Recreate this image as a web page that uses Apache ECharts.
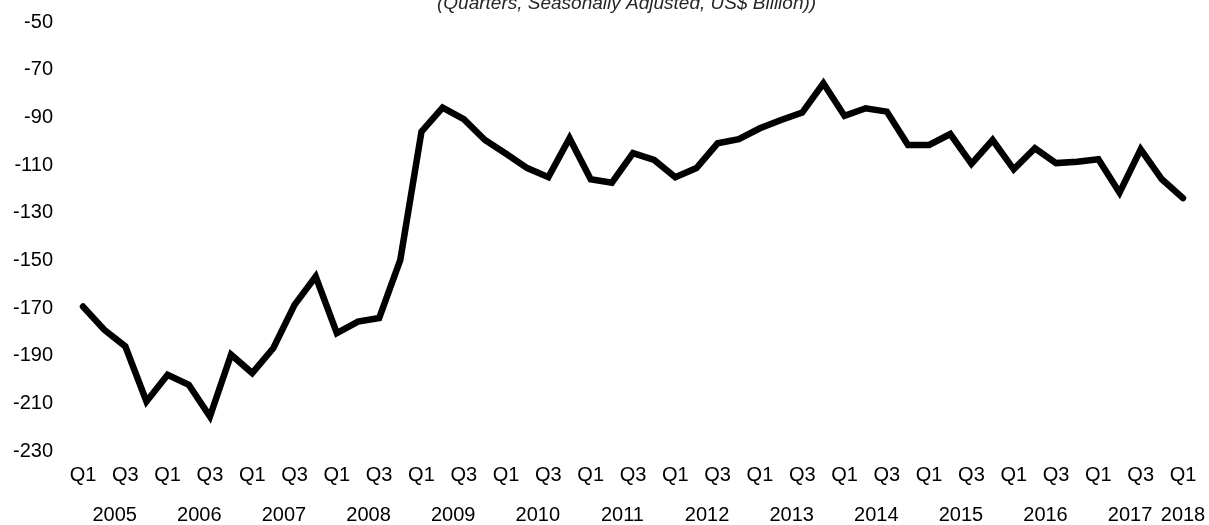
<!DOCTYPE html>
<html>
<head>
<meta charset="utf-8">
<script src="https://cdn.jsdelivr.net/npm/echarts@6/dist/echarts.min.js"></script>
<style>
  html, body { margin: 0; padding: 0; background: #fff; }
  #chart { width: 1209px; height: 525px; }
</style>
</head>
<body>
<div id="chart"></div>
<script>
// Quarterly balance, 2005 Q1 – 2018 Q1 (US$ billion, seasonally adjusted)
const years = [2005, 2006, 2007, 2008, 2009, 2010, 2011, 2012, 2013, 2014, 2015, 2016, 2017, 2018];
const quarterNames = ['Q1', 'Q2', 'Q3', 'Q4'];

// one entry per quarter, starting at 2005 Q1
const balance = [
  -169.4, -179.1, -186.1, -209.2,   // 2005
  -198.0, -202.2, -215.5, -189.6,   // 2006
  -197.3, -186.8, -168.7, -156.8,   // 2007
  -180.5, -175.7, -174.2, -149.8,   // 2008
  -96.0,  -85.9,  -90.8,  -99.5,    // 2009
  -105.3, -111.3, -115.1, -98.8,    // 2010
  -116.0, -117.4, -105.0, -107.9,   // 2011
  -115.1, -111.3, -100.9, -99.2,    // 2012
  -94.6,  -91.1,  -88.0,  -75.7,    // 2013
  -89.4,  -86.2,  -87.6,  -101.6,   // 2014
  -101.6, -97.0,  -109.5, -99.5,    // 2015
  -111.8, -103.0, -109.2, -108.6,   // 2016
  -107.6, -121.6, -103.4, -116.0,   // 2017
  -123.9                            // 2018
];

const yTicks = { min: -230, max: -50, step: 20 };
const titleText = '(Quarters, Seasonally Adjusted, US$ Billion))';

// quarter category labels, e.g. "2005 Q1"
const quarters = balance.map((_, i) => years[Math.floor(i / 4)] + ' ' + quarterNames[i % 4]);

// centre of each year's group of quarters on the quarter index scale
const lastIndex = balance.length - 1;
const yearCentres = years.map((y, k) => {
  const first = k * 4;
  const last = Math.min(first + 3, lastIndex);
  return (first + last) / 2;
});

const font = 'Liberation Sans, Arial, sans-serif';

const chart = echarts.init(document.getElementById('chart'), null, { renderer: 'canvas' });
chart.setOption({
  animation: false,
  backgroundColor: '#ffffff',
  title: {
    text: titleText,
    left: 437,
    top: -6,
    padding: 0,
    textStyle: {
      fontFamily: font,
      fontSize: 19,
      fontStyle: 'italic',
      fontWeight: 'normal',
      color: '#262626'
    }
  },
  grid: { left: 83, right: 26, top: 22, bottom: 73, containLabel: false },
  xAxis: [
    {
      type: 'category',
      data: quarters,
      boundaryGap: false,
      position: 'bottom',
      axisLine: { show: false },
      axisTick: { show: false },
      splitLine: { show: false },
      axisLabel: {
        interval: 1,
        margin: 14,
        color: '#000',
        fontFamily: font,
        fontSize: 20,
        formatter: v => v.split(' ')[1]
      }
    },
    {
      type: 'value',
      min: 0,
      max: lastIndex,
      position: 'bottom',
      offset: 39,
      axisLine: { show: false },
      axisTick: { show: false },
      splitLine: { show: false },
      axisLabel: {
        customValues: yearCentres,
        margin: 15,
        color: '#000',
        fontFamily: font,
        fontSize: 20,
        formatter: v => String(years[Math.floor(v / 4)])
      }
    }
  ],
  yAxis: {
    type: 'value',
    min: yTicks.min,
    max: yTicks.max,
    interval: yTicks.step,
    axisLine: { show: false },
    axisTick: { show: false },
    splitLine: { show: false },
    axisLabel: {
      margin: 30,
      color: '#000',
      fontFamily: font,
      fontSize: 20
    }
  },
  series: [
    {
      type: 'line',
      data: balance,
      xAxisIndex: 0,
      symbol: 'none',
      lineStyle: { color: '#000', width: 6.5, cap: 'round', join: 'miter' }
    }
  ]
});
</script>
</body>
</html>
